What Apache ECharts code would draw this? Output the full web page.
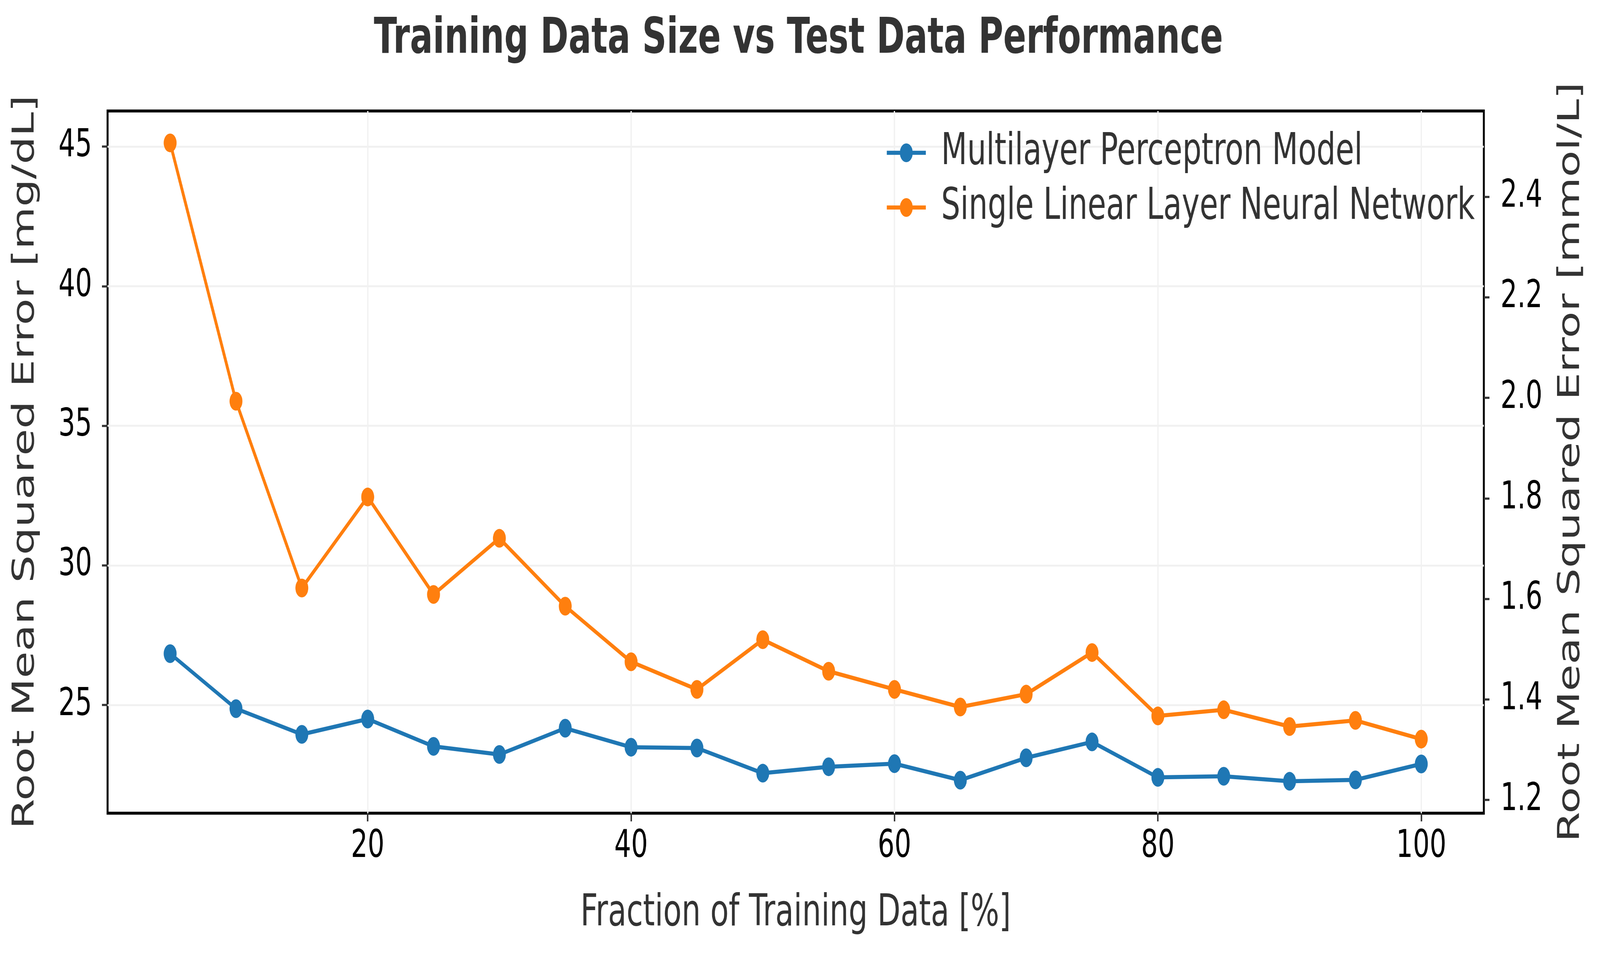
<!DOCTYPE html>
<html>
<head>
<meta charset="utf-8">
<script src="https://cdn.jsdelivr.net/npm/echarts@6/dist/echarts.min.js"></script>
<style>
html,body{margin:0;padding:0;background:#fff;overflow:hidden;}
#chart{width:5949px;height:2449px;transform-origin:0 0;}
</style>
</head>
<body>
<div id="chart"></div>
<script>
const fractions = [5,10,15,20,25,30,35,40,45,50,55,60,65,70,75,80,85,90,95,100];
const mlpRmse = [26.84,24.87,23.95,24.50,23.52,23.23,24.17,23.49,23.46,22.56,22.79,22.90,22.31,23.11,23.68,22.41,22.45,22.27,22.32,22.89];
const slnnRmse = [45.13,35.88,29.19,32.45,28.96,30.97,28.54,26.55,25.56,27.34,26.21,25.56,24.93,25.39,26.88,24.61,24.83,24.23,24.45,23.78];
const xTicks = [20,40,60,80,100];
const yTicks = [25,30,35,40,45];
const y2Ticks = [1.2,1.4,1.6,1.8,2.0,2.2,2.4];
const seriesNames = ['Multilayer Perceptron Model','Single Linear Layer Neural Network'];
const MGDL_PER_MMOL = 18;

const xMinD = Math.min(...fractions), xMaxD = Math.max(...fractions);
const xPad = (xMaxD - xMinD) * 0.05;
const allY = mlpRmse.concat(slnnRmse);
const yMinD = Math.min(...allY), yMaxD = Math.max(...allY);
const yPad = (yMaxD - yMinD) * 0.05;
const yMin = yMinD - yPad, yMax = yMaxD + yPad;

// fit the 5949x2449 design into the actual window
const W = 5949, H = 2449;
const el = document.getElementById('chart');
const sx = Math.min(1, window.innerWidth / W), sy = Math.min(1, window.innerHeight / H);
el.style.transform = 'scale(' + sx + ',' + sy + ')';

const chart = echarts.init(el, null, {renderer:'canvas', width:W, height:H});
const FONT = 'DejaVu Sans';
const tickStyle = {show:true, inside:false, length:21, lineStyle:{color:'#333', width:5.5}};

chart.setOption({
  animation:false,
  backgroundColor:'#ffffff',
  title:{
    text:'Training Data Size vs Test Data Performance',
    left:1390, top:39, padding:0,
    textStyle:{fontFamily:FONT, fontSize:126, fontWeight:'bold', color:'#333333'}
  },
  legend:{
    left:3292, top:335, padding:0, orient:'vertical',
    itemWidth:145, itemHeight:60, itemGap:28,
    data:seriesNames,
    lineStyle:{width:10.5},
    formatter:function(n){return '{s|}' + n;},
    textStyle:{fontFamily:FONT, fontSize:112, color:'#333333', rich:{s:{width:52}}}
  },
  grid:{left:400, right:432, top:284, bottom:368, show:true, borderColor:'#000', borderWidth:7.5, backgroundColor:'transparent', containLabel:false, outerBoundsMode:'none'},
  xAxis:{
    type:'value', min:xMinD - xPad, max:xMaxD + xPad,
    name:'Fraction of Training Data [%]', nameLocation:'middle', nameGap:202,
    nameTextStyle:{fontFamily:FONT, fontSize:112, color:'#333333'},
    axisLine:{show:false},
    axisTick:Object.assign({customValues:xTicks}, tickStyle),
    axisLabel:{customValues:xTicks, fontFamily:FONT, fontSize:98, color:'#000', margin:38},
    splitLine:{show:true, lineStyle:{color:'#f1f1f1', width:5}}
  },
  yAxis:[{
    type:'value', position:'left', min:yMin, max:yMax,
    name:'Root Mean Squared Error [mg/dL]', nameLocation:'middle', nameGap:248, nameRotate:90,
    nameTextStyle:{fontFamily:FONT, fontSize:112, color:'#333333'},
    axisLine:{show:false},
    axisTick:Object.assign({customValues:yTicks}, tickStyle),
    axisLabel:{customValues:yTicks, fontFamily:FONT, fontSize:98, color:'#000', margin:58},
    splitLine:{show:true, lineStyle:{color:'#f1f1f1', width:5}}
  },{
    type:'value', position:'right', min:yMin / MGDL_PER_MMOL, max:yMax / MGDL_PER_MMOL,
    name:'Root Mean Squared Error [mmol/L]', nameLocation:'middle', nameGap:269, nameRotate:90,
    nameTextStyle:{fontFamily:FONT, fontSize:112, color:'#333333'},
    axisLine:{show:false},
    axisTick:Object.assign({customValues:y2Ticks}, tickStyle),
    axisLabel:{customValues:y2Ticks, fontFamily:FONT, fontSize:98, color:'#000', margin:62,
      formatter:function(v){return Number(v).toFixed(1);}},
    splitLine:{show:false}
  }],
  series:[{
    name:seriesNames[0], type:'line', yAxisIndex:0,
    data:fractions.map((f,i)=>[f, mlpRmse[i]]),
    symbol:'circle', symbolSize:48,
    lineStyle:{color:'#1f77b4', width:10.5},
    itemStyle:{color:'#1f77b4'},
    z:2
  },{
    name:seriesNames[1], type:'line', yAxisIndex:0,
    data:fractions.map((f,i)=>[f, slnnRmse[i]]),
    symbol:'circle', symbolSize:48,
    lineStyle:{color:'#ff7f0e', width:10.5},
    itemStyle:{color:'#ff7f0e'},
    z:3
  }]
});
</script>
</body>
</html>
